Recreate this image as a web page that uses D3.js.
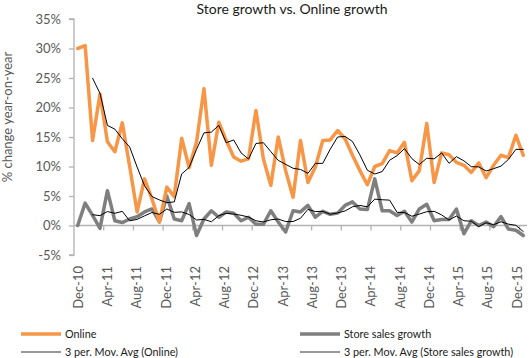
<!DOCTYPE html>
<html>
<head>
<meta charset="utf-8">
<script src="https://cdn.jsdelivr.net/npm/d3@7"></script>
<style>
  html, body { margin: 0; padding: 0; background: #fff; }
  svg { display: block; font-family: Lato, "Open Sans", sans-serif; }
</style>
</head>
<body>
<svg id="chart" width="529" height="358"></svg>
<script>
const categories = [
  "Dec-10","Jan-11","Feb-11","Mar-11","Apr-11","May-11","Jun-11","Jul-11","Aug-11","Sep-11","Oct-11","Nov-11",
  "Dec-11","Jan-12","Feb-12","Mar-12","Apr-12","May-12","Jun-12","Jul-12","Aug-12","Sep-12","Oct-12","Nov-12",
  "Dec-12","Jan-13","Feb-13","Mar-13","Apr-13","May-13","Jun-13","Jul-13","Aug-13","Sep-13","Oct-13","Nov-13",
  "Dec-13","Jan-14","Feb-14","Mar-14","Apr-14","May-14","Jun-14","Jul-14","Aug-14","Sep-14","Oct-14","Nov-14",
  "Dec-14","Jan-15","Feb-15","Mar-15","Apr-15","May-15","Jun-15","Jul-15","Aug-15","Sep-15","Oct-15","Nov-15",
  "Dec-15"
];

// % change year-on-year, online sales
const online = [
  30.0, 30.5, 14.4, 22.3, 14.2, 12.5, 17.4, 10.0, 2.3, 7.9, 4.5, 0.6,
  6.5, 4.9, 14.8, 9.8, 14.1, 23.2, 10.2, 17.5, 14.4, 11.6, 10.9, 11.3,
  19.5, 11.3, 6.8, 15.0, 9.3, 4.8, 14.4, 7.3, 9.9, 14.4, 14.5, 16.1,
  14.7, 11.9, 9.3, 6.9, 10.0, 10.5, 12.7, 12.3, 14.1, 7.6, 9.3, 17.3,
  7.3, 12.3, 12.0, 10.7, 10.2, 9.0, 10.6, 8.1, 10.2, 11.9, 11.5, 15.3,
  11.9
];

// % change year-on-year, store sales
const store = [
  0.0, 3.8, 1.7, -0.5, 5.9, 0.8, 0.5, 1.1, 1.5, 2.3, 2.8, 0.6,
  5.0, 1.1, 0.8, 3.7, -1.7, 1.1, 2.5, 1.4, 2.3, 2.1, 0.8, 1.4,
  0.2, 0.2, 2.5, 0.6, -1.1, 2.5, 2.3, 3.4, 1.4, 2.4, 1.9, 2.1,
  3.4, 4.0, 2.8, 2.7, 7.9, 2.5, 2.5, 1.7, 2.4, 0.6, 2.8, 3.6,
  0.8, 1.0, 1.0, 2.8, -1.4, 0.8, 0.0, 0.6, -0.2, 1.5, -0.6, -0.8,
  -1.7
];

const yTicks = [-5, 0, 5, 10, 15, 20, 25, 30, 35];
const labelEvery = 4;
const maPeriod = 3;

const svg = d3.select("#chart");
const axisColor = "#b3b3b3";
const textColor = "#595959";
const orange = "#f79646";
const grey = "#7f7f7f";

const plot = { left: 74, right: 527, top: 19, bottom: 255 };

const x = d3.scaleBand().domain(categories).range([plot.left, plot.right]).padding(0);
const xc = d => x(d) + x.bandwidth() / 2;
const xLabel = d3.scalePoint().domain(categories).range([77.7, 516.7]);
const y = d3.scaleLinear().domain([-5, 35]).range([plot.bottom, plot.top]);

// moving averages (trendline, computed from the series as the chart does)
function movAvg(arr) {
  return arr.map((v, i) => i < maPeriod - 1 ? null : d3.mean(arr.slice(i - maPeriod + 1, i + 1)));
}
const onlineMA = movAvg(online);
const storeMA = movAvg(store);

// Title
svg.append("text")
  .attr("x", 292).attr("y", 14)
  .attr("text-anchor", "middle")
  .attr("font-size", 14)
  .attr("fill", "#1a1a1a")
  .text("Store growth vs. Online growth");

// Y axis title
svg.append("text")
  .attr("transform", "translate(12,117) rotate(-90)")
  .attr("text-anchor", "middle")
  .attr("font-size", 13)
  .attr("fill", textColor)
  .text("% change year-on-year");

// Y axis
const yAxis = svg.append("g")
  .attr("transform", `translate(${plot.left},0)`)
  .call(d3.axisLeft(y).tickValues(yTicks).tickSize(5).tickPadding(8).tickFormat(d => d + "%"));
yAxis.select(".domain").attr("stroke", axisColor).attr("stroke-width", 1.3).attr("d", `M-5,${y(35)}H0V${y(-5)}H-5`);
yAxis.selectAll(".tick line").attr("stroke", axisColor).attr("stroke-width", 1.3);
yAxis.selectAll(".tick text").attr("fill", textColor).attr("font-size", 13).attr("font-family", "Lato, sans-serif");

// X axis line at zero with tick marks at category boundaries
const xAxisG = svg.append("g").attr("transform", `translate(0,${y(0)})`);
xAxisG.append("line")
  .attr("x1", plot.left).attr("x2", plot.right)
  .attr("stroke", axisColor).attr("stroke-width", 1.3);
const tickCats = categories.filter((d, i) => i % labelEvery === 0 && i > 0);
xAxisG.selectAll("line.tk").data(tickCats).enter().append("line")
  .attr("class", "tk")
  .attr("x1", d => x(d)).attr("x2", d => x(d))
  .attr("y1", 0).attr("y2", 5)
  .attr("stroke", axisColor).attr("stroke-width", 1.3);

// X labels (at the low end of the axis)
const labelCats = categories.filter((d, i) => i % labelEvery === 0);
const xLabels = svg.append("g").attr("transform", `translate(0,${plot.bottom})`)
  .call(d3.axisBottom(xLabel).tickValues(labelCats).tickSize(0).tickPadding(0));
xLabels.select(".domain").remove();
xLabels.selectAll(".tick text")
  .attr("fill", textColor)
  .attr("font-size", 13)
  .attr("font-family", "Lato, sans-serif")
  .attr("text-anchor", "end")
  .attr("dy", "0.35em")
  .attr("transform", "translate(0,11) rotate(-90)")
  .attr("x", 0).attr("y", 0);

// Lines
const line = d3.line()
  .defined(d => d[1] !== null)
  .x(d => xc(d[0]))
  .y(d => y(d[1]));

function drawSeries(vals, color, width) {
  svg.append("path")
    .datum(categories.map((c, i) => [c, vals[i]]))
    .attr("fill", "none")
    .attr("stroke", color)
    .attr("stroke-width", width)
    .attr("stroke-linejoin", "round")
    .attr("stroke-linecap", "round")
    .attr("d", line);
}
drawSeries(store, grey, 3.5);
drawSeries(online, orange, 3.5);
drawSeries(storeMA, "#000", 1);
drawSeries(onlineMA, "#000", 1);

// Legend
const legend = [
  { label: "Online", color: orange, w: 3.5, x: 21, y: 334 },
  { label: "Store sales growth", color: grey, w: 3.5, x: 300, y: 334 },
  { label: "3 per. Mov. Avg (Online)", color: "#333", w: 1, x: 21, y: 352 },
  { label: "3 per. Mov. Avg (Store sales growth)", color: "#333", w: 1, x: 300, y: 352 }
];
const lg = svg.append("g").selectAll("g").data(legend).enter().append("g");
lg.append("line")
  .attr("x1", d => d.x).attr("x2", d => d.x + 40)
  .attr("y1", d => d.y).attr("y2", d => d.y)
  .attr("stroke", d => d.color).attr("stroke-width", d => d.w);
lg.append("text")
  .attr("x", d => d.x + 44).attr("y", d => d.y + 4)
  .attr("font-size", 10.8)
  .attr("fill", "#1a1a1a")
  .text(d => d.label);
</script>
</body>
</html>
